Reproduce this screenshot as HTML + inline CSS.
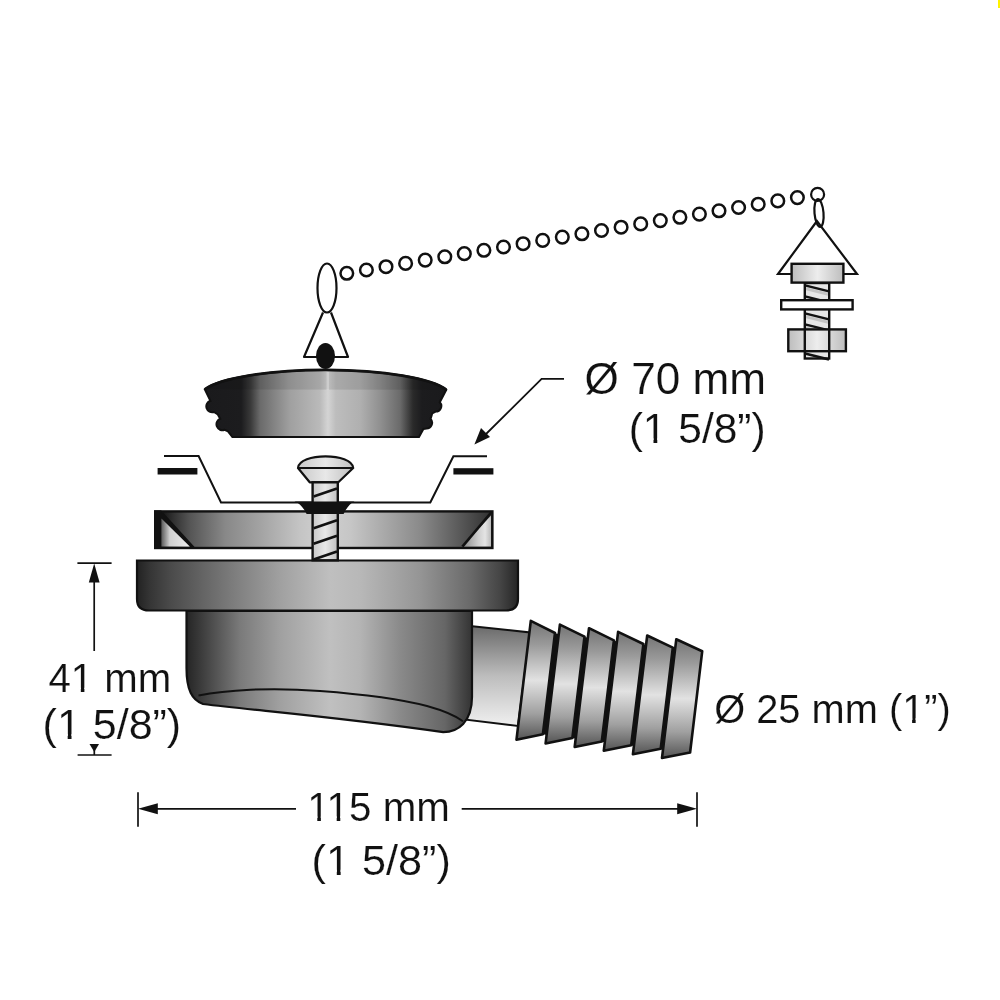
<!DOCTYPE html>
<html><head><meta charset="utf-8">
<style>
html,body{margin:0;padding:0;background:#fff;width:1000px;height:1000px;overflow:hidden}
svg{display:block;will-change:transform}
text{font-family:"Liberation Sans",sans-serif;fill:#111;stroke:#fff;stroke-width:0.15px}
</style></head>
<body>
<svg width="1000" height="1000" viewBox="0 0 1000 1000">
<defs>
 <linearGradient id="gStop" x1="205" y1="0" x2="446" y2="0" gradientUnits="userSpaceOnUse">
  <stop offset="0" stop-color="#1a1a1c"/>
  <stop offset="0.15" stop-color="#1c1c1e"/>
  <stop offset="0.19" stop-color="#3a3a3a"/>
  <stop offset="0.228" stop-color="#6a6a6a"/>
  <stop offset="0.353" stop-color="#a0a0a0"/>
  <stop offset="0.477" stop-color="#bababa"/>
  <stop offset="0.51" stop-color="#d4d4d4"/>
  <stop offset="0.543" stop-color="#bdbdbd"/>
  <stop offset="0.643" stop-color="#b0b0b0"/>
  <stop offset="0.726" stop-color="#909090"/>
  <stop offset="0.81" stop-color="#6a6a6a"/>
  <stop offset="0.863" stop-color="#2a2a2a"/>
  <stop offset="0.9" stop-color="#1c1c1e"/>
  <stop offset="1" stop-color="#1a1a1c"/>
 </linearGradient>
 <linearGradient id="gFlange" x1="137" y1="0" x2="518" y2="0" gradientUnits="userSpaceOnUse">
  <stop offset="0" stop-color="#222"/>
  <stop offset="0.034" stop-color="#353535"/>
  <stop offset="0.087" stop-color="#4a4a4a"/>
  <stop offset="0.244" stop-color="#7a7a7a"/>
  <stop offset="0.375" stop-color="#a0a0a0"/>
  <stop offset="0.507" stop-color="#bfbfbf"/>
  <stop offset="0.585" stop-color="#b8b8b8"/>
  <stop offset="0.743" stop-color="#959595"/>
  <stop offset="0.874" stop-color="#6a6a6a"/>
  <stop offset="0.953" stop-color="#454545"/>
  <stop offset="1" stop-color="#252525"/>
 </linearGradient>
 <linearGradient id="gBody" x1="187" y1="0" x2="472" y2="0" gradientUnits="userSpaceOnUse">
  <stop offset="0" stop-color="#262626"/>
  <stop offset="0.046" stop-color="#3a3a3a"/>
  <stop offset="0.186" stop-color="#7a7a7a"/>
  <stop offset="0.326" stop-color="#a0a0a0"/>
  <stop offset="0.502" stop-color="#c0c0c0"/>
  <stop offset="0.607" stop-color="#b4b4b4"/>
  <stop offset="0.747" stop-color="#8a8a8a"/>
  <stop offset="0.905" stop-color="#666"/>
  <stop offset="1" stop-color="#333"/>
 </linearGradient>
 <linearGradient id="gRing" x1="154" y1="0" x2="493" y2="0" gradientUnits="userSpaceOnUse">
  <stop offset="0" stop-color="#111"/>
  <stop offset="0.03" stop-color="#1a1a1a"/>
  <stop offset="0.06" stop-color="#333"/>
  <stop offset="0.106" stop-color="#555"/>
  <stop offset="0.21" stop-color="#888"/>
  <stop offset="0.31" stop-color="#a2a2a2"/>
  <stop offset="0.43" stop-color="#c4c4c4"/>
  <stop offset="0.5" stop-color="#d0d0d0"/>
  <stop offset="0.58" stop-color="#c6c6c6"/>
  <stop offset="0.785" stop-color="#8a8a8a"/>
  <stop offset="0.9" stop-color="#5a5a5a"/>
  <stop offset="0.99" stop-color="#333"/>
 </linearGradient>
 <linearGradient id="gTri" x1="161" y1="0" x2="190" y2="0" gradientUnits="userSpaceOnUse">
  <stop offset="0" stop-color="#555"/>
  <stop offset="0.3" stop-color="#cfcfcf"/>
  <stop offset="1" stop-color="#eee"/>
 </linearGradient>
 <linearGradient id="gTriR" x1="462" y1="0" x2="492" y2="0" gradientUnits="userSpaceOnUse">
  <stop offset="0" stop-color="#888"/>
  <stop offset="0.55" stop-color="#cfcfcf"/>
  <stop offset="0.77" stop-color="#e4e4e4"/>
  <stop offset="1" stop-color="#b4b4b4"/>
 </linearGradient>
 <linearGradient id="gPipe" x1="0" y1="626" x2="0" y2="726" gradientUnits="userSpaceOnUse">
  <stop offset="0" stop-color="#6a6a6a"/>
  <stop offset="0.5" stop-color="#bdbdbd"/>
  <stop offset="1" stop-color="#f0f0f0"/>
 </linearGradient>
 <linearGradient id="gBarb" x1="0" y1="0" x2="0" y2="1">
  <stop offset="0" stop-color="#747474"/>
  <stop offset="0.2" stop-color="#9a9a9a"/>
  <stop offset="0.5" stop-color="#e2e2e2"/>
  <stop offset="0.78" stop-color="#a0a0a0"/>
  <stop offset="1" stop-color="#555"/>
 </linearGradient>
 <linearGradient id="gLight" x1="0" y1="0" x2="1" y2="0">
  <stop offset="0" stop-color="#bdbdbd"/>
  <stop offset="0.5" stop-color="#ededed"/>
  <stop offset="1" stop-color="#bdbdbd"/>
 </linearGradient>
 <linearGradient id="gScrew" x1="0" y1="0" x2="1" y2="0">
  <stop offset="0" stop-color="#c8c8c8"/>
  <stop offset="0.5" stop-color="#e8e8e8"/>
  <stop offset="1" stop-color="#c0c0c0"/>
 </linearGradient>
</defs>

<!-- ===== chain ===== -->
<g id="chain" fill="none" stroke="#111" stroke-width="2.5"><circle cx="346.8" cy="273.3" r="6.3"/><circle cx="366.4" cy="270.0" r="6.3"/><circle cx="386.0" cy="266.7" r="6.3"/><circle cx="405.6" cy="263.4" r="6.3"/><circle cx="425.2" cy="260.1" r="6.3"/><circle cx="444.8" cy="256.8" r="6.3"/><circle cx="464.3" cy="253.6" r="6.3"/><circle cx="483.9" cy="250.3" r="6.3"/><circle cx="503.5" cy="247.0" r="6.3"/><circle cx="523.1" cy="243.7" r="6.3"/><circle cx="542.7" cy="240.4" r="6.3"/><circle cx="562.3" cy="237.1" r="6.3"/><circle cx="581.9" cy="233.8" r="6.3"/><circle cx="601.5" cy="230.5" r="6.3"/><circle cx="621.1" cy="227.2" r="6.3"/><circle cx="640.7" cy="223.9" r="6.3"/><circle cx="660.3" cy="220.6" r="6.3"/><circle cx="679.9" cy="217.3" r="6.3"/><circle cx="699.4" cy="214.1" r="6.3"/><circle cx="719.0" cy="210.8" r="6.3"/><circle cx="738.6" cy="207.5" r="6.3"/><circle cx="758.2" cy="204.2" r="6.3"/><circle cx="777.8" cy="200.9" r="6.3"/><circle cx="797.4" cy="197.6" r="6.3"/></g>

<!-- ===== left hanger ===== -->
<g stroke="#111" stroke-width="2.2" fill="none">
 <ellipse cx="327" cy="288" rx="9.5" ry="24.5"/>
 <path d="M323 312.5 L304 357 L348 357 L331 312.5" stroke-linejoin="round"/>
</g>
<ellipse cx="325.5" cy="356" rx="9.5" ry="13" fill="#111"/>

<!-- ===== stopper ===== -->
<path d="M204.8 389.3 A125 26.4 0 0 1 446.3 389.8 L439.8 402.2 A5.6 5.6 0 0 1 435.6 411.6 L432.2 413.4 L430.6 419 A5.6 5.6 0 0 1 426.4 428.4 L423.4 429 L419 437 L232.4 437 L228 431.4 L224.6 429.8 A5.8 5.8 0 0 1 220.2 418.8 L217.8 414.4 L214 412 A5.6 5.6 0 0 1 210.4 400.8 Z" fill="url(#gStop)" stroke="#111" stroke-width="2"/>
<path d="M205.5 389.3 A125 26.4 0 0 1 445.6 389.8 Z" fill="#000" fill-opacity="0.1"/>
<rect x="326.5" y="372" width="2.5" height="18" fill="#fff" fill-opacity="0.25"/>
<path d="M204.8 389.3 A125 26.4 0 0 1 446.3 389.8" fill="none" stroke="#111" stroke-width="2.8"/>
<!-- ===== sink lines ===== -->
<path d="M164 456 H198.6 L221 502.4 H430.3 L453.4 456.2 H487" fill="none" stroke="#111" stroke-width="2"/>
<rect x="157.6" y="468" width="39.8" height="6.5" fill="#111"/>
<rect x="453.4" y="468.2" width="40" height="6.3" fill="#111"/>

<!-- ===== strainer ring ===== -->
<rect x="155.2" y="511.4" width="337.2" height="36.6" fill="url(#gRing)" stroke="#111" stroke-width="2.4"/>
<rect x="154.2" y="510.4" width="7.2" height="38.4" fill="#111"/>
<path d="M161.4 512.8 L163.4 512.8 L194.6 547 L189.8 547 L161.4 518.4 Z" fill="#111"/>
<path d="M161.4 518.4 L161.4 546.4 L189.8 546.4 Z" fill="url(#gTri)"/>
<path d="M491 515.5 L491 546.4 L462.4 546.4 Z" fill="url(#gTriR)"/>
<path d="M491.5 512 L462.4 546.6" stroke="#111" stroke-width="2.6"/>

<!-- ===== arrow leader ===== -->
<path d="M564 378.8 H541.6 L483 437" fill="none" stroke="#111" stroke-width="1.8"/>
<path d="M474.4 444.4 L481 428 L490 437 Z" fill="#111"/>

<!-- ===== pipe + barbs ===== -->
<path d="M470 626 L530 632.5 L518 726 L460 719 Z" fill="url(#gPipe)" stroke="#111" stroke-width="2"/>
<path d="M540 631.5 L690 650.5 L678 751.5 L528 732.5 Z" fill="#111"/>
<g id="barbs" fill="url(#gBarb)" stroke="#111" stroke-width="2.6" stroke-linejoin="round"><path d="M530.8 620.9 L555.0 633.0 L542.9 734.2 L516.5 739.7 Z"/><path d="M559.9 624.6 L584.5 636.7 L572.4 737.9 L545.6 743.4 Z"/><path d="M589.0 628.2 L613.9 640.3 L601.8 741.5 L574.7 747.0 Z"/><path d="M618.1 631.9 L643.4 644.0 L631.2 745.2 L603.8 750.7 Z"/><path d="M647.2 635.5 L672.8 647.6 L660.7 748.8 L632.9 754.3 Z"/><path d="M676.3 639.2 L702.2 651.3 L690.1 752.5 L662.0 758.0 Z"/></g>

<!-- ===== flange ===== -->
<path d="M137 560.5 H518 V599 Q518 610.5 506 610.5 H149 Q137 610.5 137 599 Z" fill="url(#gFlange)" stroke="#111" stroke-width="2.2"/>

<!-- ===== body ===== -->
<path d="M186.5 611 V668 C186.5 690 192 700 203 704 C260 711 330 716 443.2 732.1 C458 732 472 722 472 697 V611 Z" fill="url(#gBody)" stroke="#111" stroke-width="2.2"/>
<path d="M198.5 695.5 C225 690 270 687 320 691 C360 694 400 699 427 706 C445 711 456 716 463 721.3" fill="none" stroke="#111" stroke-width="2"/>

<!-- ===== screw ===== -->
<path d="M298 468 C299 452.5 352 452.5 353.2 468 L338.3 482.3 H309.7 Z" fill="url(#gScrew)" stroke="#111" stroke-width="2.2" stroke-linejoin="round"/>
<path d="M298.5 468 H352.7" stroke="#111" stroke-width="2"/>
<g id="screwshaft"><rect x="312.6" y="482.3" width="25.2" height="78" fill="url(#gScrew)" stroke="#111" stroke-width="2.4"/><path d="M313.6 496.6 L337 488.6" stroke="#111" stroke-width="2.6"/><path d="M313.6 528.2 L337 520.2" stroke="#111" stroke-width="2.6"/><path d="M313.6 543.8 L337 535.8" stroke="#111" stroke-width="2.6"/><path d="M313.6 559.4 L337 551.4" stroke="#111" stroke-width="2.6"/></g>
<path d="M294.5 501.4 H354.5 C350 503 346.5 508 343.6 514 H306.6 C303.5 508 300 503 294.5 501.4 Z" fill="#111"/>


<!-- ===== right hanger ===== -->
<g stroke="#111" stroke-width="2.2" fill="none">
 <circle cx="817.6" cy="194.4" r="6.5"/>
 <ellipse cx="819" cy="213" rx="4.5" ry="14" transform="rotate(-5 819 213)"/>
 <path d="M817 221 L778 274 L857 274 Z"/>
</g>
<g id="bolt"><rect x="804.8" y="283" width="24.4" height="75.5" fill="#e6e6e6" stroke="#111" stroke-width="2.4"/><path d="M806 287.3 L828 292.8 L828 295.8 L806 290.3 Z" fill="#c4c4c4"/><path d="M805 285.3 L829 291.3" stroke="#111" stroke-width="2.4"/><path d="M806 298.3 L828 303.8 L828 306.8 L806 301.3 Z" fill="#c4c4c4"/><path d="M805 296.3 L829 302.3" stroke="#111" stroke-width="2.4"/><path d="M806 315.3 L828 320.8 L828 323.8 L806 318.3 Z" fill="#c4c4c4"/><path d="M805 313.3 L829 319.3" stroke="#111" stroke-width="2.4"/><path d="M806 326.3 L828 331.8 L828 334.8 L806 329.3 Z" fill="#c4c4c4"/><path d="M805 324.3 L829 330.3" stroke="#111" stroke-width="2.4"/><path d="M805 353.5 L829 359.5" stroke="#111" stroke-width="2.4"/><rect x="791.6" y="263.8" width="51.8" height="18.8" fill="url(#gLight)" stroke="#111" stroke-width="2.4"/><rect x="781.2" y="300.2" width="71.4" height="9.2" fill="#fff" stroke="#111" stroke-width="2.4"/><rect x="788.3" y="329.4" width="57.6" height="21.8" fill="url(#gLight)" stroke="#111" stroke-width="2.4"/><path d="M804.8 329 V352 M829.2 329 V352" stroke="#111" stroke-width="2.4"/></g>

<!-- ===== dimension lines ===== -->
<g stroke="#111" stroke-width="1.7" fill="none">
 <path d="M77.4 563.2 H111.6"/>
 <path d="M94.2 580 V651"/>
 <path d="M77.6 755 H111.6"/>
 <path d="M94.3 750 V755"/>
 <path d="M138 792.3 V826.8"/>
 <path d="M156 808.8 H296"/>
 <path d="M461.7 808.8 H680"/>
 <path d="M697 792.3 V826.8"/>
</g>
<g fill="#111">
 <path d="M94.2 563.5 L88.8 582.4 H99.6 Z"/>
 <path d="M94.3 752 L89.5 744 H99 Z"/>
 <path d="M138 808.8 L157.8 803.3 V814.3 Z"/>
 <path d="M697 808.8 L677.2 803.3 V814.3 Z"/>
</g>

<!-- ===== labels ===== -->
<text x="584.6" y="394" font-size="44.1">Ø 70 mm</text>
<text x="628.7" y="443" font-size="42.5">(1 5/8”)</text>
<text x="48.4" y="692.2" font-size="40.2">41 mm</text>
<text x="42.6" y="738.8" font-size="43">(1 5/8”)</text>
<text x="714.2" y="722.5" font-size="39.8">Ø 25 mm (1”)</text>
<text x="307.2" y="820.7" font-size="40.3">115 mm</text>
<text x="311.6" y="874.5" font-size="43.2">(1 5/8”)</text>
<g id="onefix"><rect x="644.54" y="438.32" width="8.95" height="6.17" fill="#fff"/><rect x="657.27" y="438.32" width="8.52" height="6.17" fill="#fff"/><rect x="72.35" y="687.78" width="8.46" height="5.92" fill="#fff"/><rect x="84.39" y="687.78" width="8.06" height="5.92" fill="#fff"/><rect x="58.63" y="734.07" width="9.05" height="6.23" fill="#fff"/><rect x="71.51" y="734.07" width="8.62" height="6.23" fill="#fff"/><rect x="903.73" y="718.12" width="8.38" height="5.88" fill="#fff"/><rect x="915.65" y="718.12" width="7.98" height="5.88" fill="#fff"/><rect x="308.81" y="816.27" width="8.48" height="5.93" fill="#fff"/><rect x="320.88" y="816.27" width="8.08" height="5.93" fill="#fff"/><rect x="328.22" y="816.27" width="8.48" height="5.93" fill="#fff"/><rect x="340.29" y="816.27" width="8.08" height="5.93" fill="#fff"/><rect x="327.70" y="869.75" width="9.09" height="6.25" fill="#fff"/><rect x="340.64" y="869.75" width="8.66" height="6.25" fill="#fff"/></g>
<rect x="998" y="0" width="2" height="8" fill="#fff300"/>
</svg>
</body></html>
